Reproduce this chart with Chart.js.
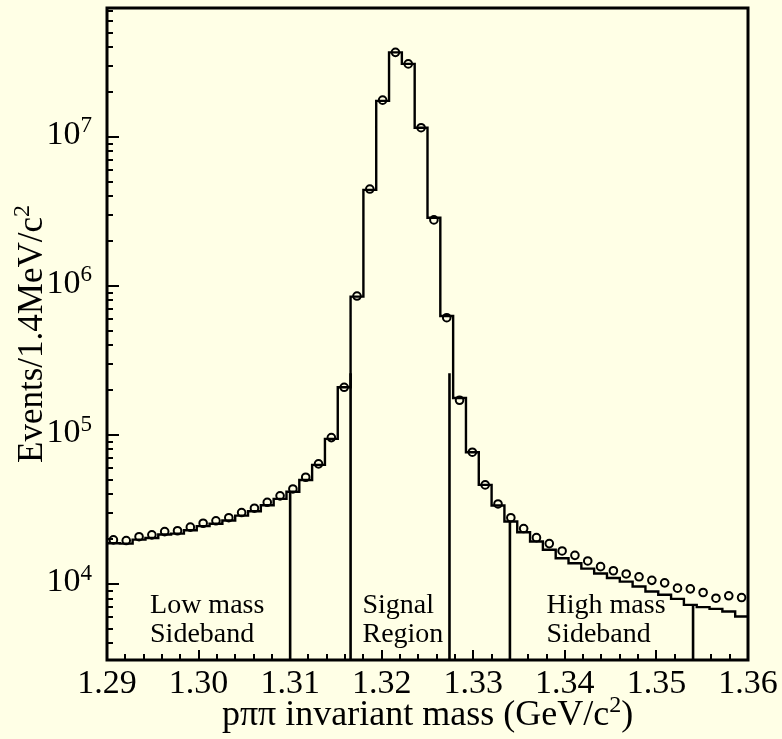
<!DOCTYPE html>
<html>
<head>
<meta charset="utf-8">
<script src="https://cdn.jsdelivr.net/npm/chart.js@4/dist/chart.umd.min.js"></script>
<style>
  html, body { margin: 0; padding: 0; background: #ffffe6; }
</style>
</head>
<body>
<canvas id="chart" width="782" height="739"></canvas>
<script>
// histogram binning: 50 bins of 1.4 MeV from 1.29 GeV
const binStart = 1.29;
const binWidth = 0.0014;

// step histogram (per bin, left to right)
const histCounts = [
  18800, 18700, 19900, 20400, 21500, 21800, 23000, 24500, 25400, 26700,
  28800, 30800, 33800, 37300, 41600, 49900, 63100, 94200, 209000, 847000,
  4.4e6, 1.74e7, 3.68e7, 3.08e7, 1.15e7, 2.86e6, 628000, 177000, 76700, 46300,
  33700, 26300, 22300, 19300, 17000, 14900, 13800, 12700, 11800, 11000,
  10400, 9640, 8920, 8480, 7970, 7260, 7010, 6830, 6550, 6070
];

// open circles (per bin centre)
const dataCounts = [
  19800, 19600, 20800, 21400, 22500, 22800, 24100, 25600, 26600, 27900,
  30200, 32300, 35400, 39100, 43500, 52100, 64000, 96100, 209000, 855000,
  4.46e6, 1.76e7, 3.68e7, 3.08e7, 1.15e7, 2.77e6, 612000, 171000, 76700, 46300,
  34500, 27900, 23600, 20500, 18700, 16700, 15600, 14300, 13100, 12300,
  11700, 11200, 10600, 10200, 9400, 9300, 8790, 8050, 8350, 8130
];

const xTickLabels = ['1.29', '1.30', '1.31', '1.32', '1.33', '1.34', '1.35', '1.36'];
const yDecades = [4, 5, 6, 7];

// region boundary lines and how high they reach
const cutEdges = [1.31, 1.3166, 1.3274, 1.334, 1.354];
const cutTops = [41600, 260000, 260000, 26300, 7260];

const regionNames = [['Low mass', 'Sideband'], ['Signal', 'Region'], ['High mass', 'Sideband']];
const regionNameX = [1.2947, 1.3179, 1.3380];

const FONT = '"Liberation Serif", "Times New Roman", serif';
const BG = '#ffffe6';

const histPoints = histCounts.map((v, i) => ({ x: binStart + i * binWidth, y: v }));
histPoints.push({ x: binStart + histCounts.length * binWidth, y: histCounts[histCounts.length - 1] });
const circlePoints = dataCounts.map((v, i) => ({ x: binStart + (i + 0.5) * binWidth, y: v }));

const Y_MIN = 3100, Y_MAX = 7.3e7;

const cutSets = cutEdges.map((x, i) => ({
  data: [{ x: x, y: Y_MIN }, { x: x, y: cutTops[i] }],
  borderColor: '#000',
  borderWidth: 2.6,
  pointRadius: 0,
  fill: false
}));

// draw text with superscript pieces
function richWidth(ctx, parts, size) {
  let w = 0;
  parts.forEach(p => {
    ctx.font = (p.sup ? Math.round(size * 0.68) : size) + 'px ' + FONT;
    w += ctx.measureText(p.t).width;
  });
  return w;
}
function drawRich(ctx, parts, x, y, size, align) {
  const w = richWidth(ctx, parts, size);
  let cx = align === 'center' ? x - w / 2 : (align === 'right' ? x - w : x);
  ctx.textAlign = 'left';
  ctx.textBaseline = 'alphabetic';
  parts.forEach(p => {
    const s = p.sup ? Math.round(size * 0.68) : size;
    ctx.font = s + 'px ' + FONT;
    ctx.fillText(p.t, cx, p.sup ? y - size * 0.36 : y);
    cx += ctx.measureText(p.t).width;
  });
}

const framePlugin = {
  id: 'frame',
  beforeDraw(chart) {
    const ctx = chart.ctx;
    ctx.save();
    ctx.fillStyle = BG;
    ctx.fillRect(0, 0, chart.width, chart.height);
    ctx.restore();
  },
  afterDraw(chart) {
    const ctx = chart.ctx;
    const a = chart.chartArea;
    const xs = chart.scales.x, ys = chart.scales.y;
    ctx.save();
    ctx.strokeStyle = '#000';
    ctx.fillStyle = '#000';

    // y ticks (log, inward)
    ctx.lineWidth = 2;
    for (let d = 3; d <= 7; d++) {
      for (let m = 1; m <= 9; m++) {
        const v = m * Math.pow(10, d);
        if (v < Y_MIN || v > Y_MAX) continue;
        const py = Math.round(ys.getPixelForValue(v));
        const len = m === 1 ? 12 : 6;
        ctx.beginPath();
        ctx.moveTo(a.left, py);
        ctx.lineTo(a.left + len, py);
        ctx.stroke();
      }
    }
    // x ticks (inward)
    for (let i = 0; i <= 35; i++) {
      const v = 1.29 + i * 0.002;
      const px = Math.round(xs.getPixelForValue(v));
      const len = i % 5 === 0 ? 10 : 6;
      ctx.beginPath();
      ctx.moveTo(px, a.bottom);
      ctx.lineTo(px, a.bottom - len);
      ctx.stroke();
    }

    // frame
    ctx.lineWidth = 3;
    ctx.strokeRect(a.left, a.top, a.right - a.left, a.bottom - a.top);

    // x tick labels
    ctx.font = '34px ' + FONT;
    ctx.textAlign = 'center';
    ctx.textBaseline = 'alphabetic';
    xTickLabels.forEach(t => {
      ctx.fillText(t, xs.getPixelForValue(parseFloat(t)), a.bottom + 33);
    });

    // y tick labels 10^n
    yDecades.forEach(d => {
      const py = ys.getPixelForValue(Math.pow(10, d));
      ctx.textAlign = 'right';
      ctx.textBaseline = 'alphabetic';
      ctx.font = '23px ' + FONT;
      const ew = ctx.measureText(String(d)).width;
      ctx.fillText(String(d), a.left - 15, py - 4.5);
      ctx.font = '34px ' + FONT;
      ctx.fillText('10', a.left - 15 - ew, py + 7);
    });

    // region names
    ctx.font = '28px ' + FONT;
    ctx.textAlign = 'left';
    regionNames.forEach((lines, i) => {
      const px = xs.getPixelForValue(regionNameX[i]);
      ctx.fillText(lines[0], px, a.bottom - 47);
      ctx.fillText(lines[1], px, a.bottom - 18);
    });

    // axis titles
    drawRich(ctx, [{ t: 'p\u03c0\u03c0 invariant mass (GeV/c' }, { t: '2', sup: true }, { t: ')' }],
      (a.left + a.right) / 2, 725, 36, 'center');

    ctx.save();
    ctx.translate(42, (a.top + a.bottom) / 2);
    ctx.rotate(-Math.PI / 2);
    drawRich(ctx, [{ t: 'Events/1.4MeV/c' }, { t: '2', sup: true }], 0, 0, 35, 'center');
    ctx.restore();

    ctx.restore();
  }
};

new Chart(document.getElementById('chart').getContext('2d'), {
  type: 'line',
  data: {
    datasets: [
      {
        data: histPoints,
        stepped: 'before',
        borderColor: '#000',
        borderWidth: 2.4,
        pointRadius: 0,
        fill: false
      },
      {
        data: circlePoints,
        showLine: false,
        pointStyle: 'circle',
        pointRadius: 3.8,
        pointBorderWidth: 2,
        pointBorderColor: '#000',
        pointBackgroundColor: 'rgba(0,0,0,0)'
      },
      ...cutSets
    ]
  },
  options: {
    responsive: false,
    animation: false,
    layout: { padding: { top: 8, right: 34, left: 0, bottom: 0 } },
    plugins: { legend: { display: false }, tooltip: { enabled: false } },
    scales: {
      x: {
        type: 'linear', min: 1.29, max: 1.36,
        grid: { display: false }, border: { display: false },
        ticks: { display: false },
        afterFit: s => { s.height = 79; }
      },
      y: {
        type: 'logarithmic', min: Y_MIN, max: Y_MAX,
        grid: { display: false }, border: { display: false },
        ticks: { display: false },
        afterFit: s => { s.width = 107; }
      }
    }
  },
  plugins: [framePlugin]
});
</script>
</body>
</html>
